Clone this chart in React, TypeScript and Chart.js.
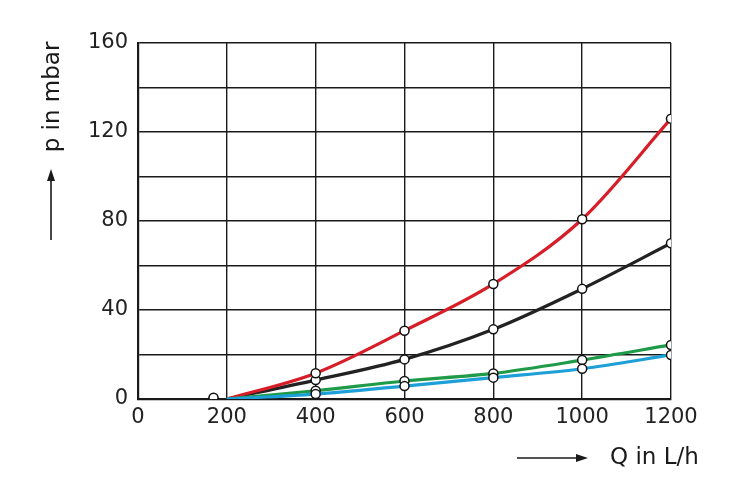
import React, { useEffect, useRef } from "react";
import { Chart, registerables } from "chart.js";

Chart.register(...registerables);

const flowQ = [200, 400, 600, 800, 1000, 1200];
const redP = [0, 11.6, 30.7, 51.7, 80.8, 126];
const blackP = [0, 8.5, 17.8, 31.3, 49.5, 70];
const greenP = [0, 3.7, 8.1, 11.5, 17.5, 24.3];
const blueP = [0, 2.2, 5.8, 9.6, 13.6, 19.8];
const startMarkerQ = [170, 170];
const startMarkerP = [0, 0.6];

const xTitle = "Q in L/h";
const yTitle = "p in mbar";

const FONT = "'DejaVu Sans', sans-serif";

const toPts = (ys: number[]) => flowQ.map((x, i) => ({ x, y: ys[i] }));

const series = (label: string, ys: number[], color: string) => ({
  label,
  data: toPts(ys),
  borderColor: color,
  borderWidth: 3.2,
  cubicInterpolationMode: "monotone" as const,
  pointRadius: (c: any) => (c.dataIndex === 0 ? 0 : 4.5),
  pointBackgroundColor: "#ffffff",
  pointBorderColor: "#111111",
  pointBorderWidth: 1.5,
  fill: false,
});

const decorPlugin = {
  id: "decor",
  afterDraw(chart: any) {
    const ctx = chart.ctx;
    ctx.save();
    ctx.fillStyle = "#1a1a1a";
    ctx.strokeStyle = "#1a1a1a";
    ctx.font = `23px ${FONT}`;
    // y title, rotated
    ctx.save();
    ctx.translate(53, 97);
    ctx.rotate(-Math.PI / 2);
    ctx.textAlign = "center";
    ctx.textBaseline = "middle";
    ctx.fillText(yTitle, 0, 0);
    ctx.restore();
    // y arrow
    ctx.lineWidth = 1.6;
    ctx.beginPath();
    ctx.moveTo(51, 240);
    ctx.lineTo(51, 178);
    ctx.stroke();
    ctx.beginPath();
    ctx.moveTo(51, 169);
    ctx.lineTo(47, 181);
    ctx.lineTo(55, 181);
    ctx.closePath();
    ctx.fill();
    // x title
    ctx.textAlign = "left";
    ctx.textBaseline = "middle";
    ctx.fillText(xTitle, 610, 458);
    // x arrow
    ctx.beginPath();
    ctx.moveTo(517, 458);
    ctx.lineTo(578, 458);
    ctx.stroke();
    ctx.beginPath();
    ctx.moveTo(588, 458);
    ctx.lineTo(576, 454);
    ctx.lineTo(576, 462);
    ctx.closePath();
    ctx.fill();
    ctx.restore();
  },
};

export default function App() {
  const ref = useRef<HTMLCanvasElement | null>(null);
  useEffect(() => {
    document.body.style.margin = "0";
    if (!ref.current) return;
    const chart = new Chart(ref.current, {
      type: "line",
      data: {
        datasets: [
          series("blue", blueP, "#1d9fd8"),
          series("green", greenP, "#1e9a48"),
          series("red", redP, "#d71d27"),
          series("black", blackP, "#222222"),
          {
            label: "start",
            data: startMarkerQ.map((x, i) => ({ x, y: startMarkerP[i] })),
            showLine: false,
            pointRadius: 4.5,
            pointBackgroundColor: "#ffffff",
            pointBorderColor: "#111111",
            pointBorderWidth: 1.5,
          } as any,
        ],
      },
      options: {
        animation: false,
        responsive: true,
        maintainAspectRatio: false,
        layout: { padding: { top: 43, right: 84, left: 0, bottom: 0 } },
        plugins: { legend: { display: false }, tooltip: { enabled: false } },
        scales: {
          x: {
            type: "linear",
            min: 0,
            max: 1200,
            afterFit: (s: any) => {
              s.height = 89;
            },
            ticks: {
              stepSize: 200,
              maxRotation: 0,
              padding: 6,
              color: "#222222",
              font: { family: FONT, size: 21 },
              callback: (v: any) => String(v),
            },
            grid: { color: "#1a1a1a", lineWidth: 1.4, drawTicks: false },
            border: { color: "#1a1a1a", width: 2.2 },
          },
          y: {
            min: 0,
            max: 160,
            afterFit: (s: any) => {
              s.width = 138;
            },
            ticks: {
              stepSize: 20,
              padding: 10,
              color: "#222222",
              font: { family: FONT, size: 21 },
              callback: (v: any) => (Number(v) % 40 === 0 ? String(v) : ""),
            },
            grid: { color: "#1a1a1a", lineWidth: 1.4, drawTicks: false },
            border: { color: "#1a1a1a", width: 2.2 },
          },
        },
      },
      plugins: [decorPlugin],
    });
    return () => chart.destroy();
  }, []);
  return (
    <div style={{ position: "fixed", left: 0, top: 0, width: 755, height: 488 }}>
      <canvas ref={ref} />
    </div>
  );
}
